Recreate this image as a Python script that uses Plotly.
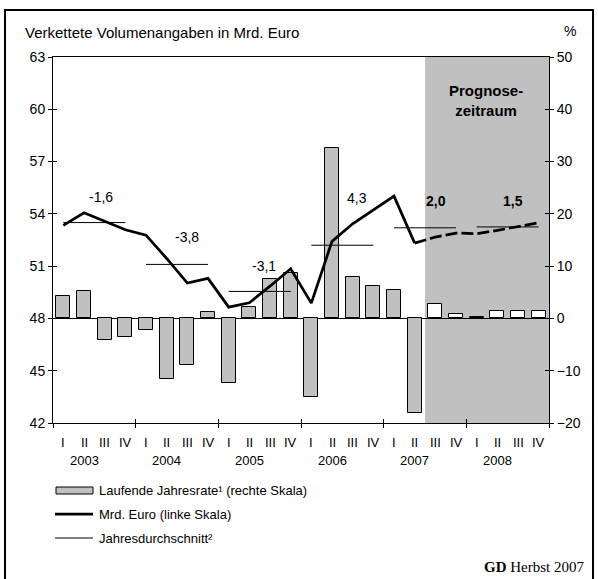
import plotly.graph_objects as go

# ---------------- data ----------------
years = ["2003", "2004", "2005", "2006", "2007", "2008"]
quarters = ["I", "II", "III", "IV"]
# laufende Jahresrate in % (rechte Skala)
rate_pct = [4.3, 5.3, -4.1, -3.5, -2.2, -11.5, -8.9, 1.3,
            -12.3, 2.2, 7.5, 8.6, -15.1, 32.6, 8.0, 6.2,
            5.5, -18.0, 2.7, 0.8, 0.25, 1.5, 1.5, 1.5]
# Mrd. Euro (linke Skala)
volume_bn = [53.34, 54.06, 53.58, 53.09, 52.78, 51.44, 50.03, 50.30,
             48.65, 48.90, 49.85, 50.85, 48.88, 52.42, 53.43, 54.21,
             55.02, 52.32, 52.67, 52.90, 52.86, 53.05, 53.28, 53.49]
# Jahresdurchschnitt (Mrd. Euro)
annual_avg = [53.5, 51.1, 49.55, 52.2, 53.2, 53.25]
# Veränderung gegenüber Vorjahr in %
annual_growth = ["-1,6", "-3,8", "-3,1", "4,3", "2,0", "1,5"]
forecast_years = ["2007", "2008"]
first_forecast = 18  # 2007 Q3

# ---------------- layout helpers ----------------
W, H = 598, 579
L, R, T, B = 53, 49, 57, 156
PW, PH = W - L - R, H - T - B


def px(x):
    return (x - L) / PW


def py(y):
    return (H - B - y) / PH


FONT = "Liberation Sans, Arial, sans-serif"
n = len(volume_bn)
xs = list(range(n))
bounds = [i - 0.5 for i in range(0, n + 1, 4)]

fig = go.Figure()

# bars (base subplot, % scale on the right)
bar_colors = ["#c0c0c0" if i < first_forecast else "#ffffff" for i in xs]
fig.add_trace(go.Bar(x=xs, y=rate_pct, xaxis="x", yaxis="y",
                     marker=dict(color=bar_colors, line=dict(color="black", width=1)),
                     width=0.68, showlegend=False, hoverinfo="skip"))

# helper traces for the inner half of the crossing ticks
for xa, ya in [("x2", "y"), ("x", "y3"), ("x", "y4")]:
    fig.add_trace(go.Scatter(x=[None], y=[None], xaxis=xa, yaxis=ya,
                             showlegend=False, hoverinfo="skip"))

# annual averages
for k, avg in enumerate(annual_avg):
    fig.add_trace(go.Scatter(x=[4 * k, 4 * k + 3], y=[avg, avg], xaxis="x", yaxis="y2",
                             mode="lines", line=dict(color="black", width=1),
                             showlegend=False, hoverinfo="skip"))

# volume line: actual and forecast
fig.add_trace(go.Scatter(x=xs[:first_forecast], y=volume_bn[:first_forecast],
                         xaxis="x", yaxis="y2", mode="lines",
                         line=dict(color="black", width=2.75),
                         showlegend=False, hoverinfo="skip"))
fig.add_trace(go.Scatter(x=xs[first_forecast - 1:], y=volume_bn[first_forecast - 1:],
                         xaxis="x", yaxis="y2", mode="lines",
                         line=dict(color="black", width=2.75, dash="12px,4px"),
                         showlegend=False, hoverinfo="skip"))

axis_common = dict(showgrid=False, tickcolor="black", ticklen=4, tickwidth=1,
                   tickfont=dict(family=FONT, size=14, color="black"))

fig.update_layout(
    width=W, height=H,
    margin=dict(l=L, r=R, t=T, b=B, pad=0),
    paper_bgcolor="white", plot_bgcolor="white",
    showlegend=False,
    bargap=0,
    xaxis=dict(range=[-0.5, n - 0.5], tickmode="array", tickvals=bounds,
               ticks="outside", showticklabels=False, showline=True, mirror=True,
               linecolor="black", linewidth=1, zeroline=False, **axis_common),
    xaxis2=dict(overlaying="x", anchor="y", range=[-0.5, n - 0.5], tickmode="array",
                tickvals=bounds, ticks="inside", showticklabels=False, showline=False,
                zeroline=False, **axis_common),
    yaxis=dict(side="right", range=[-20, 50], tickmode="linear", tick0=-20, dtick=10,
               ticks="outside", showline=True, linecolor="black", linewidth=1,
               zeroline=True, zerolinecolor="black", zerolinewidth=1, **axis_common),
    yaxis2=dict(overlaying="y", side="left", anchor="x", range=[42, 63], tickmode="linear",
                tick0=42, dtick=3, ticks="outside", showline=True, linecolor="black",
                linewidth=1, zeroline=False, **axis_common),
    yaxis3=dict(overlaying="y", side="left", anchor="x", range=[42, 63], tickmode="linear",
                tick0=42, dtick=3, ticks="inside", showticklabels=False, showline=False,
                zeroline=False, **axis_common),
    yaxis4=dict(overlaying="y", side="right", anchor="x", range=[-20, 50], tickmode="linear",
                tick0=-20, dtick=10, ticks="inside", showticklabels=False, showline=False,
                zeroline=False, **axis_common),
)

shapes = []
# forecast shading
shapes.append(dict(type="rect", xref="x", yref="paper", x0=first_forecast - 0.5, x1=n - 0.5,
                   y0=0, y1=1, fillcolor="#c0c0c0", line=dict(width=0), layer="below"))
# outer frame
shapes.append(dict(type="rect", xref="paper", yref="paper", x0=px(5), x1=px(593),
                   y0=py(583), y1=py(10), line=dict(color="black", width=2),
                   fillcolor="rgba(0,0,0,0)", layer="above"))
# manual legend symbols
shapes.append(dict(type="rect", xref="paper", yref="paper", x0=px(56), x1=px(93),
                   y0=py(494), y1=py(487), fillcolor="#c0c0c0",
                   line=dict(color="black", width=1)))
shapes.append(dict(type="line", xref="paper", yref="paper", x0=px(55), x1=px(93),
                   y0=py(514), y1=py(514), line=dict(color="black", width=2.75)))
shapes.append(dict(type="line", xref="paper", yref="paper", x0=px(55), x1=px(93),
                   y0=py(538), y1=py(538), line=dict(color="black", width=1)))
fig.update_layout(shapes=shapes)

ann = []


def txt(text, x, y, size=14, xanchor="left", family=FONT, xref="paper", yref="paper"):
    ann.append(dict(text=text, x=x, y=y, xref=xref, yref=yref, xanchor=xanchor,
                    yanchor="middle", showarrow=False,
                    font=dict(family=family, size=size, color="black")))


txt("Verkettete Volumenangaben in Mrd. Euro", px(23), py(32), size=15)
txt("%", px(562), py(31), size=14)

# quarter and year labels
for k, yr in enumerate(years):
    for q, ql in enumerate(quarters):
        txt(ql, 4 * k + q, py(442), size=13, xanchor="center", xref="x")
    txt(yr, 4 * k + 1, py(461), size=13, xanchor="center", xref="x")

# growth labels
label_x = [1.8, 6.0, 9.7, 14.2, 18.05, 21.75]
label_y = [54.95, 52.65, 50.98, 54.9, 54.75, 54.75]
for k, g in enumerate(annual_growth):
    t = "<b>%s</b>" % g if years[k] in forecast_years else g
    ann.append(dict(text=t, x=label_x[k], y=label_y[k], xref="x", yref="y2",
                    xanchor="center", yanchor="middle", showarrow=False,
                    font=dict(family=FONT, size=14, color="black")))

ann.append(dict(text="<b>Prognose-</b><br><b>zeitraum</b>", x=px(486), y=py(100.5),
                xref="paper", yref="paper", xanchor="center", yanchor="middle",
                showarrow=False, font=dict(family=FONT, size=15, color="black")))

# legend texts
txt("Laufende Jahresrate¹ (rechte Skala)", px(97), py(490.5), size=13)
txt("Mrd. Euro (linke Skala)", px(97), py(514), size=13)
txt("Jahresdurchschnitt²", px(97), py(538), size=13)

txt("<b>GD</b> Herbst 2007", px(586), py(567), size=15, xanchor="right",
    family="Liberation Serif, Times New Roman, serif")

fig.update_layout(annotations=ann)

fig.write_html(
    "out.html",
    config={"displayModeBar": False},
    post_script="document.body.style.margin='0';document.body.style.padding='0';",
)
